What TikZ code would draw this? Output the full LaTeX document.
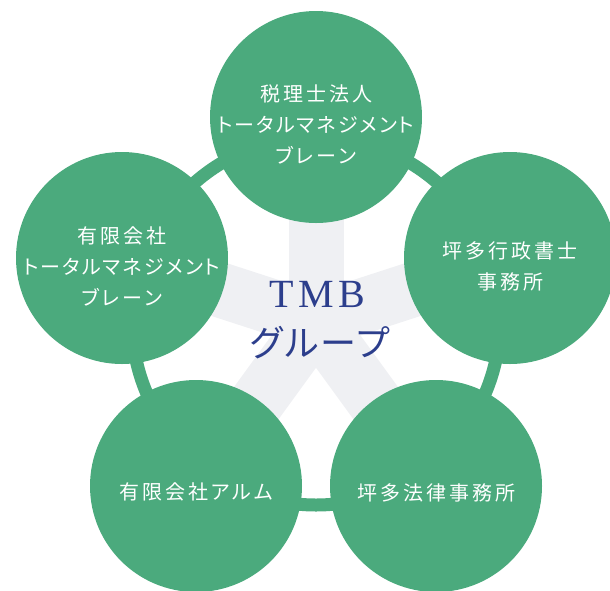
\documentclass[tikz,border=0pt]{standalone}
\usepackage{fontspec}
\newfontfamily\jp{Noto Sans CJK JP}[LetterSpace=15,RawFeature=+palt]
\newfontfamily\jpc{Noto Sans CJK JP}[LetterSpace=6,RawFeature=+palt]
\newfontfamily\tmbfont{Liberation Serif}
\definecolor{grn}{HTML}{4BAA7D}
\definecolor{starc}{HTML}{EFF0F3}
\definecolor{navy}{HTML}{2C3E8C}
\begin{document}
\begin{tikzpicture}[x=1pt,y=-1pt,
  bubble/.style={circle,fill=grn,minimum size=212pt,inner sep=0pt},
  btext/.style={text=white,font=\jp\fontsize{20}{31}\selectfont,align=center,inner sep=0pt},
  arm/.style={draw=starc,line width=55pt},
  ring/.style={draw=grn,line width=13pt}]
\useasboundingbox (0,0) rectangle (610,590);
\coordinate (c) at (316,321);
\coordinate (p1) at (316,117);
\coordinate (p2) at (510,258);
\coordinate (p3) at (436,486);
\coordinate (p4) at (196,486);
\coordinate (p5) at (122,258);
\foreach \p in {p1,p2,p3,p4,p5} \draw[arm] (c) -- (\p);
\draw[ring] (c) circle[radius=184];
\node[bubble] (b1) at (p1) {};
\node[bubble] (b2) at (p2) {};
\node[bubble] (b3) at (p3) {};
\node[bubble] (b4) at (p4) {};
\node[bubble] (b5) at (p5) {};
\node[btext] (t1) at ([yshift=-7pt]b1.center) {税理士法人\\{\addfontfeatures{LetterSpace=10}トータルマネジメント}\\ブレーン};
\node[btext] (t2) at ([yshift=-8pt]b2.center) {坪多行政書士\\事務所};
\node[btext] (t3) at ([yshift=-7pt]b3.center) {坪多法律事務所};
\node[btext] (t4) at ([yshift=-6pt]b4.center) {有限会社アルム};
\node[btext] (t5) at ([yshift=-8pt]b5.center) {有限会社\\{\addfontfeatures{LetterSpace=10}トータルマネジメント}\\ブレーン};
\node[text=navy,font=\tmbfont\fontsize{40}{40}\selectfont,anchor=base,inner sep=0pt] (tmb) at (317,307) {T\kern4.5ptM\kern4.5ptB};
\node[text=navy,font=\jpc\fontsize{36}{36}\selectfont,inner sep=0pt] (grp) at (320,343) {グループ};
\end{tikzpicture}
\end{document}
